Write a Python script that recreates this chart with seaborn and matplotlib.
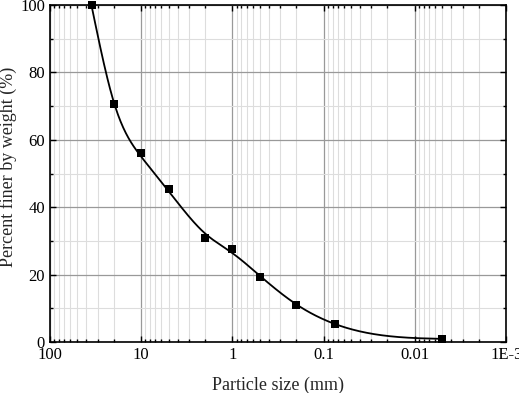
import numpy as np
import pandas as pd
import seaborn as sns
from matplotlib import pyplot as plt
from matplotlib.ticker import FixedLocator, FixedFormatter, MultipleLocator, LogLocator, NullFormatter

# %% Data
size_mm = [35, 20, 10, 5, 2, 1, 0.5, 0.2, 0.075, 0.005]
pct_finer = [100, 70.5, 56, 45.5, 30.8, 27.6, 19.4, 11.0, 5.3, 0.9]
xticks = [100, 10, 1, 0.1, 0.01, 0.001]
xticklabels = ['100', '10', '1', '0.1', '0.01', '1E-3']

dfData = pd.DataFrame({'Size': size_mm, 'Finer': pct_finer})


# smoothing spline in log-size (like the origin smoothed line, not through every point)
def smooth_spline(x, y, w, lam, xn):
    n = len(x)
    h = np.diff(x)
    Q = np.zeros((n, n - 2))
    R = np.zeros((n - 2, n - 2))
    for j in range(1, n - 1):
        Q[j - 1, j - 1] = 1 / h[j - 1]
        Q[j, j - 1] = -1 / h[j - 1] - 1 / h[j]
        Q[j + 1, j - 1] = 1 / h[j]
        R[j - 1, j - 1] = (h[j - 1] + h[j]) / 3
        if j < n - 2:
            R[j - 1, j] = R[j, j - 1] = h[j] / 6
    K = Q @ np.linalg.solve(R, Q.T)
    W = np.diag(w)
    g = np.linalg.solve(W + lam * K, W @ y)
    M = np.zeros(n)
    M[1:-1] = np.linalg.solve(R, Q.T @ g)
    i = np.clip(np.searchsorted(x, xn) - 1, 0, n - 2)
    a = x[i + 1] - xn
    b = xn - x[i]
    hh = h[i]
    return ((a**3 * M[i] + b**3 * M[i + 1]) / (6 * hh)
            + (g[i] / hh - M[i] * hh / 6) * a
            + (g[i + 1] / hh - M[i + 1] * hh / 6) * b)


lx = np.log10(dfData.Size.values)[::-1]
ly = dfData.Finer.values[::-1].astype(float)
# heavier weights where the drawn curve hugs the points (ends)
wts = np.array([10, 3, 1, 1, 1, 1, 1, 3, 10, 20], float)
xs = np.linspace(lx[0], lx[-1], 400)
dfCurve = pd.DataFrame({'Size': 10**xs, 'Finer': smooth_spline(lx, ly, wts, 0.003, xs)})

# %% Plot
sns.set_style('ticks')
plt.rcParams['font.family'] = ['Liberation Serif', 'DejaVu Serif']
plt.rcParams['xtick.direction'] = 'in'
plt.rcParams['ytick.direction'] = 'in'

fig = plt.figure(figsize=(5.19, 3.93), dpi=100)
ax = fig.add_axes([0.0963, 0.130, 0.879, 0.857])

sns.lineplot(data=dfCurve, x='Size', y='Finer', ax=ax, color='black', lw=1.3, sort=False)
sns.scatterplot(data=dfData, x='Size', y='Finer', ax=ax, marker='s', color='black',
                s=40, edgecolor='black', linewidth=0, zorder=5, clip_on=False)

ax.set_xscale('log')
ax.set_xlim(100, 0.001)
ax.set_ylim(0, 100)

ax.xaxis.set_major_locator(FixedLocator(xticks))
ax.xaxis.set_major_formatter(FixedFormatter(xticklabels))
ax.xaxis.set_minor_locator(LogLocator(base=10, subs=np.arange(2, 10), numticks=20))
ax.xaxis.set_minor_formatter(NullFormatter())
ax.yaxis.set_major_locator(MultipleLocator(20))
ax.yaxis.set_minor_locator(MultipleLocator(10))

ax.grid(which='major', color='#999999', lw=0.9)
ax.grid(which='minor', color='#dddddd', lw=0.8)
ax.set_axisbelow(True)

ax.tick_params(which='both', top=True, right=True, labelsize=12, width=1, colors='black')
ax.tick_params(which='major', length=4)
ax.tick_params(which='minor', length=2.5)
for sp in ax.spines.values():
    sp.set_linewidth(1.2)
    sp.set_color('black')

ax.set_xlabel('Particle size (mm)', fontsize=13, labelpad=10)
ax.set_ylabel('Percent finer by weight (%)', fontsize=13)
ax.yaxis.set_label_coords(-0.072, 0.52)

fig.savefig('out.png', dpi=100)
